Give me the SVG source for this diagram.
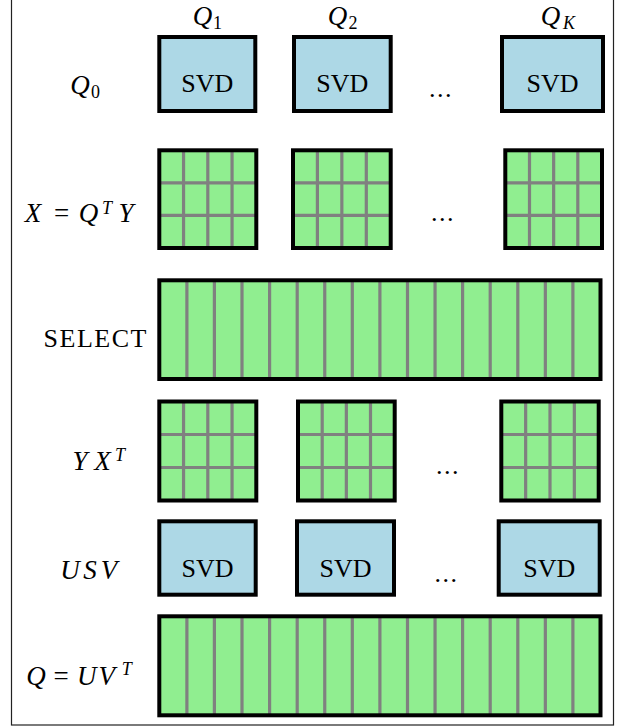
<svg xmlns="http://www.w3.org/2000/svg" width="619" height="727" viewBox="0 0 619 727">
<style>
  .svd { fill: #ADD8E6; stroke: #000; stroke-width: 4; }
  .cellbg { fill: #90EE90; stroke: none; }
  .frame { fill: none; stroke: #000; stroke-width: 4; }
  .grid { fill: none; stroke: #808080; stroke-width: 3.2; }
  text { font-family: "Liberation Serif", "Times New Roman", serif; fill: #000; }
  .rm { font-size: 26px; }
  .c { text-anchor: middle; }
  .mi { font-size: 27px; font-style: italic; text-anchor: middle; }
  .mr { font-size: 27px; text-anchor: middle; }
  .sub { font-size: 18px; text-anchor: middle; }
  .subi { font-size: 18px; font-style: italic; text-anchor: middle; }
  .dots { font-size: 26px; text-anchor: middle; letter-spacing: 1.5px; }
</style>
<rect x="11.5" y="-5" width="602" height="730" fill="#fff" stroke="#222" stroke-width="1.2"/>

<!-- Row labels -->
<g id="label-Q0"><text class="mi" x="80" y="94">Q</text><text class="sub" x="95.5" y="98">0</text></g>
<g id="label-Q1"><text class="mi" x="202.5" y="25">Q</text><text class="sub" x="217.5" y="29">1</text></g>
<g id="label-Q2"><text class="mi" x="337.5" y="25">Q</text><text class="sub" x="353" y="29">2</text></g>
<g id="label-QK"><text class="mi" x="550.5" y="25">Q</text><text class="subi" x="569" y="29">K</text></g>
<g id="label-X"><text class="mi" x="33" y="221.5">X</text><text class="mr" x="61.5" y="221.5">=</text><text class="mi" x="88.5" y="221.5">Q</text><text class="subi" x="107" y="213.5">T</text><text class="mi" x="126" y="221.5">Y</text></g>
<g id="label-select"><text class="rm" x="43.5" y="347" textLength="103">SELECT</text></g>
<g id="label-YXT"><text class="mi" x="80" y="470">Y</text><text class="mi" x="102.5" y="470">X</text><text class="subi" x="120" y="460.5">T</text></g>
<g id="label-USV"><text class="mi" x="70" y="579">U</text><text class="mi" x="90" y="579">S</text><text class="mi" x="109" y="579">V</text></g>
<g id="label-Q"><text class="mi" x="36" y="685">Q</text><text class="mr" x="61" y="685">=</text><text class="mi" x="86.7" y="685">U</text><text class="mi" x="106.7" y="685">V</text><text class="subi" x="126.7" y="675">T</text></g>

<!-- Row 1: SVD -->
<g id="svd1-1"><rect class="svd" x="159.3" y="37" width="96" height="74"/><text class="rm c" x="207.3" y="92">SVD</text></g>
<g id="svd1-2"><rect class="svd" x="294" y="37" width="96.7" height="74"/><text class="rm c" x="342.3" y="92">SVD</text></g>
<g id="svd1-K"><rect class="svd" x="502" y="37" width="101" height="74"/><text class="rm c" x="552.5" y="92">SVD</text></g>
<g id="dots1"><text class="dots" x="441" y="97">...</text></g>

<!-- Row 2: X grids -->
<g id="x-1"><rect class="cellbg" x="159.3" y="150.3" width="97" height="97.7"/>
  <path class="grid" d="M183.55 150.3V248M207.8 150.3V248M232.05 150.3V248M159.3 182.87H256.3M159.3 215.43H256.3"/>
  <rect class="frame" x="159.3" y="150.3" width="97" height="97.7"/></g>
<g id="x-2"><rect class="cellbg" x="293" y="150.3" width="97.7" height="97.7"/>
  <path class="grid" d="M317.4 150.3V248M341.85 150.3V248M366.3 150.3V248M293 182.87H390.7M293 215.43H390.7"/>
  <rect class="frame" x="293" y="150.3" width="97.7" height="97.7"/></g>
<g id="x-K"><rect class="cellbg" x="505.3" y="150.3" width="96.7" height="97.7"/>
  <path class="grid" d="M529.5 150.3V248M553.65 150.3V248M577.8 150.3V248M505.3 182.87H602M505.3 215.43H602"/>
  <rect class="frame" x="505.3" y="150.3" width="96.7" height="97.7"/></g>
<g id="dots2"><text class="dots" x="443" y="221">...</text></g>

<!-- Row 3: SELECT bar -->
<g id="select-bar"><rect class="cellbg" x="159.3" y="280.3" width="441.2" height="98.7"/>
  <path class="grid" d="M186.9 280.3V379M214.4 280.3V379M242 280.3V379M269.6 280.3V379M297.2 280.3V379M324.75 280.3V379M352.3 280.3V379M379.9 280.3V379M407.5 280.3V379M435.05 280.3V379M462.6 280.3V379M490.2 280.3V379M517.8 280.3V379M545.35 280.3V379M572.9 280.3V379"/>
  <rect class="frame" x="159.3" y="280.3" width="441.2" height="98.7"/></g>

<!-- Row 4: YX^T grids -->
<g id="yx-1"><rect class="cellbg" x="159.3" y="401.5" width="97" height="99"/>
  <path class="grid" d="M183.55 401.5V500.5M207.8 401.5V500.5M232.05 401.5V500.5M159.3 434.5H256.3M159.3 467.5H256.3"/>
  <rect class="frame" x="159.3" y="401.5" width="97" height="99"/></g>
<g id="yx-2"><rect class="cellbg" x="298" y="401.5" width="96.7" height="99"/>
  <path class="grid" d="M322.2 401.5V500.5M346.35 401.5V500.5M370.5 401.5V500.5M298 434.5H394.7M298 467.5H394.7"/>
  <rect class="frame" x="298" y="401.5" width="96.7" height="99"/></g>
<g id="yx-3"><rect class="cellbg" x="501.3" y="401.5" width="97.4" height="99"/>
  <path class="grid" d="M525.65 401.5V500.5M550 401.5V500.5M574.35 401.5V500.5M501.3 434.5H598.7M501.3 467.5H598.7"/>
  <rect class="frame" x="501.3" y="401.5" width="97.4" height="99"/></g>
<g id="dots4"><text class="dots" x="448" y="473.5">...</text></g>

<!-- Row 5: SVD -->
<g id="svd5-1"><rect class="svd" x="159.3" y="521.3" width="96.4" height="73.4"/><text class="rm c" x="207.5" y="577">SVD</text></g>
<g id="svd5-2"><rect class="svd" x="297" y="521.3" width="97" height="73.4"/><text class="rm c" x="345.5" y="577">SVD</text></g>
<g id="svd5-3"><rect class="svd" x="498.7" y="521.3" width="101" height="73.4"/><text class="rm c" x="549.2" y="577">SVD</text></g>
<g id="dots5"><text class="dots" x="446.5" y="582">...</text></g>

<!-- Row 6: Q bar -->
<g id="q-bar"><rect class="cellbg" x="159.3" y="616.3" width="441.2" height="99"/>
  <path class="grid" d="M186.9 616.3V715.3M214.4 616.3V715.3M242 616.3V715.3M269.6 616.3V715.3M297.2 616.3V715.3M324.75 616.3V715.3M352.3 616.3V715.3M379.9 616.3V715.3M407.5 616.3V715.3M435.05 616.3V715.3M462.6 616.3V715.3M490.2 616.3V715.3M517.8 616.3V715.3M545.35 616.3V715.3M572.9 616.3V715.3"/>
  <rect class="frame" x="159.3" y="616.3" width="441.2" height="99"/></g>

<g id="connectors"></g>
</svg>
